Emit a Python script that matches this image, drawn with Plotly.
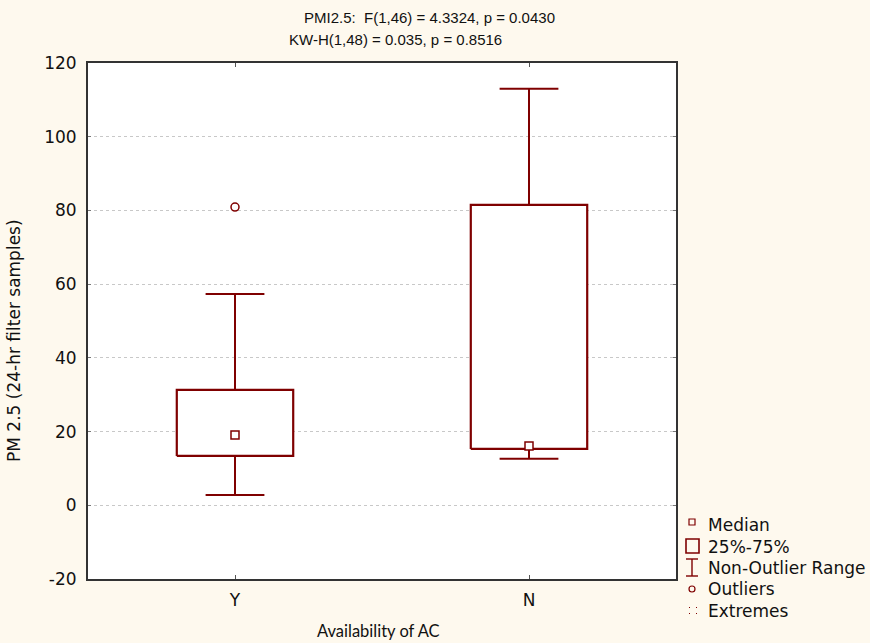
import plotly.graph_objects as go

# Box-plot summary of PM2.5 by AC availability
groups = ["Y", "N"]
q1 = [13.4, 15.3]
q3 = [31.3, 81.5]
medians = [19.1, 16.1]
whisker_low = [2.8, 12.6]
whisker_high = [57.3, 113.0]
outlier_group = ["Y"]
outlier_values = [80.9]

y_ticks = [-20, 0, 20, 40, 60, 80, 100, 120]
y_tick_labels = ["-20", "0", "20", "40", "60", "80", "100", "120"]

RED = "#7f0000"
BG = "#fef9ee"
FONT = "DejaVu Sans, Liberation Sans, sans-serif"
TITLE_FONT = "Liberation Sans, Arial, sans-serif"

BOX_HALF = 0.198
CAP_HALF = 0.1

fig = go.Figure()

for i, g in enumerate(groups):
    # whiskers
    fig.add_trace(go.Scatter(
        x=[i, i, None, i, i, None, i - CAP_HALF, i + CAP_HALF, None, i - CAP_HALF, i + CAP_HALF],
        y=[q3[i], whisker_high[i], None, q1[i], whisker_low[i], None,
           whisker_high[i], whisker_high[i], None, whisker_low[i], whisker_low[i]],
        mode="lines", line=dict(color=RED, width=2), hoverinfo="skip", showlegend=False))
    # 25%-75% box
    fig.add_trace(go.Scatter(
        x=[i - BOX_HALF, i + BOX_HALF, i + BOX_HALF, i - BOX_HALF, i - BOX_HALF],
        y=[q1[i], q1[i], q3[i], q3[i], q1[i]],
        mode="lines", line=dict(color=RED, width=2.2), fill="toself",
        fillcolor="white", hoverinfo="skip", showlegend=False))

# medians
fig.add_trace(go.Scatter(
    x=list(range(len(groups))), y=medians, mode="markers",
    marker=dict(symbol="square", size=8, color="white", line=dict(color=RED, width=1.5)),
    showlegend=False))

# outliers
fig.add_trace(go.Scatter(
    x=[groups.index(g) for g in outlier_group], y=outlier_values, mode="markers",
    marker=dict(symbol="circle", size=8, color="white", line=dict(color=RED, width=1.5)),
    showlegend=False))

W, H = 870, 643
L, R, T, B = 88, 194, 63, 64
pw, ph = W - L - R, H - T - B


def px_to_paper_x(px):
    return (px - L) / pw


def px_to_paper_y(py):
    return 1 - (py - T) / ph


def label(text, x, y, xanchor="center", **kw):
    fig.add_annotation(text=text, x=px_to_paper_x(x), y=px_to_paper_y(y),
                       xref="paper", yref="paper", xanchor=xanchor, yanchor="middle",
                       showarrow=False, **kw)


# Title lines
title_font = dict(family=TITLE_FONT, size=15)
label("PMI2.5:  F(1,46) = 4.3324, p = 0.0430", 302, 17, xanchor="left", font=title_font)
label("KW-H(1,48) = 0.035, p = 0.8516", 395, 40, font=title_font)

# Axis titles
label("PM 2.5 (24-hr filter samples)", 14, 341, textangle=-90, font=dict(size=17))
label("Availability of AC", 378, 631,
      font=dict(family="Lato, Open Sans, sans-serif", size=16.5))

# Legend key
legend_items = ["Median", "25%-75%", "Non-Outlier Range", "Outliers", "Extremes"]
legend_y = [525, 547, 568, 589, 611]
for text, ly in zip(legend_items, legend_y):
    label(text, 706, ly, xanchor="left", font=dict(size=17))

key_shapes = [
    dict(type="rect", x0=689, x1=695, y0=519, y1=525, line=dict(color=RED, width=1.2)),
    dict(type="rect", x0=686, x1=699, y0=539, y1=553, line=dict(color=RED, width=1.6)),
    dict(type="line", x0=692, x1=692, y0=559, y1=576, line=dict(color=RED, width=1.4)),
    dict(type="line", x0=686, x1=698, y0=559, y1=559, line=dict(color=RED, width=1.4)),
    dict(type="line", x0=686, x1=698, y0=576, y1=576, line=dict(color=RED, width=1.4)),
    dict(type="circle", x0=689, x1=695, y0=586, y1=592, line=dict(color=RED, width=1.2)),
]
for dx in (689, 696):
    for dy in (607, 613):
        key_shapes.append(dict(type="rect", x0=dx, x1=dx + 1, y0=dy, y1=dy + 1,
                               line=dict(width=0), fillcolor=RED))

for s in key_shapes:
    s.update(xref="paper", yref="paper",
             x0=px_to_paper_x(s["x0"]), x1=px_to_paper_x(s["x1"]),
             y0=px_to_paper_y(s["y0"]), y1=px_to_paper_y(s["y1"]))
    fig.add_shape(**s)

fig.update_layout(
    width=W, height=H,
    margin=dict(l=L, r=R, t=T, b=B),
    paper_bgcolor=BG, plot_bgcolor="white",
    font=dict(family=FONT, size=16, color="#111111"),
    showlegend=False,
)
fig.update_xaxes(
    range=[-0.5, 1.5], tickvals=list(range(len(groups))), ticktext=groups,
    showgrid=False, zeroline=False, showline=True, mirror="ticks",
    linecolor="#333333", linewidth=2, ticks="inside", ticklen=4,
    tickcolor="#555555", tickfont=dict(size=17), ticklabelstandoff=5,
)
fig.update_yaxes(
    range=[-20, 120], tickvals=y_ticks, ticktext=y_tick_labels,
    showgrid=True, gridcolor="#c8c8c8",
    griddash="dot", gridwidth=1, zeroline=False, showline=True, mirror="ticks",
    linecolor="#333333", linewidth=2, ticks="inside", ticklen=3,
    tickcolor="#777777", tickfont=dict(size=17), ticklabelstandoff=6,
)

fig.write_html("out.html")
